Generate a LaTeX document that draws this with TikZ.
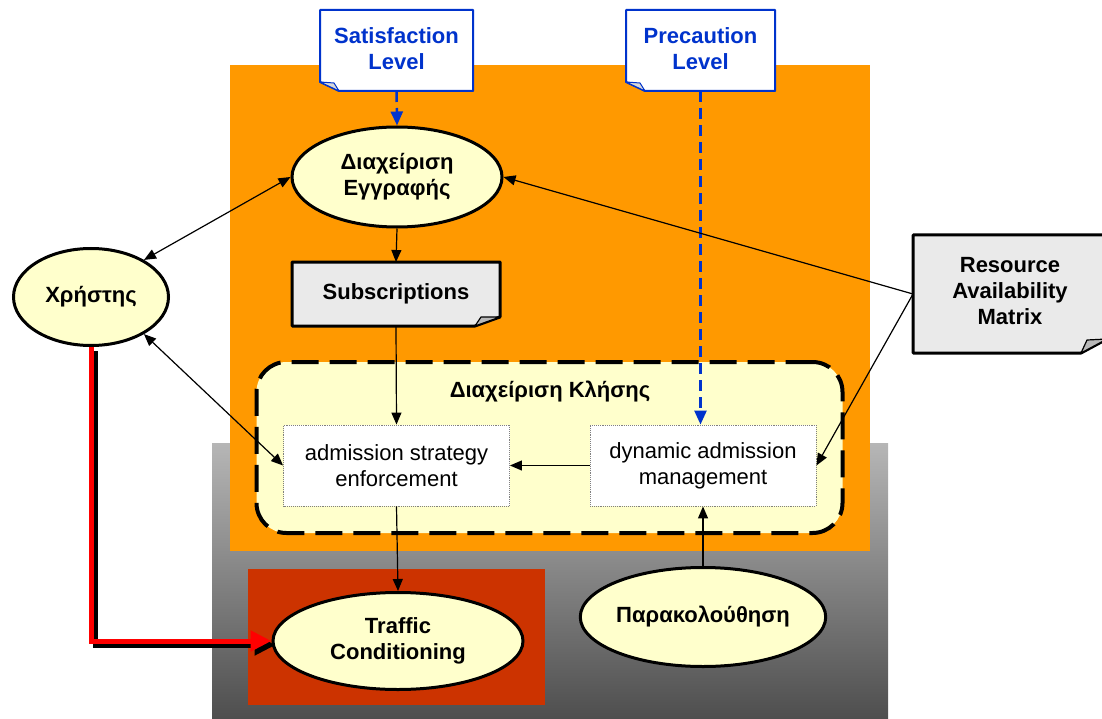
\documentclass[tikz,border=0pt]{standalone}
\usepackage{fontspec}
\setmainfont{Liberation Sans}
\usetikzlibrary{shapes.geometric,arrows.meta,calc}

\definecolor{orangebg}{RGB}{255,153,0}
\definecolor{paleyellow}{RGB}{255,255,204}
\definecolor{brick}{RGB}{204,51,0}
\definecolor{noteblue}{RGB}{0,51,204}
\definecolor{notegray}{RGB}{234,234,234}
\definecolor{gradtop}{RGB}{182,182,182}
\definecolor{gradbottom}{RGB}{78,78,78}

\tikzset{
  txt/.style={font=\fontsize{22}{26}\selectfont},
  boldtxt/.style={font=\fontsize{22}{26}\selectfont\bfseries},
  oval/.style={ellipse, draw=black, line width=3pt, fill=paleyellow,
    inner sep=0pt, align=center, boldtxt},
  noteframe/.style={rectangle, draw=none, inner sep=0pt, outer sep=0pt},
  notetext/.style={align=center, boldtxt, inner sep=0pt},
  taskbox/.style={rectangle, draw=gray, densely dotted, line width=0.9pt,
    fill=white, minimum width=226pt, minimum height=81pt, align=center, txt},
  callarea/.style={rectangle, draw=black, fill=paleyellow, line width=4pt,
    dash pattern=on 27pt off 11pt, rounded corners=30pt,
    minimum width=586pt, minimum height=171pt},
  link/.style={line width=1.2pt, -{Triangle[length=12pt,width=10pt]}},
  twoway/.style={line width=1.2pt,
    {Triangle[length=12pt,width=10pt]}-{Triangle[length=12pt,width=10pt]}},
  bluelink/.style={draw=noteblue, line width=2.5pt, dash pattern=on 11pt off 6pt,
    -{Triangle[length=14pt,width=12pt]}},
  redpath/.style={line width=5pt, -{Triangle[length=21pt,width=20pt]}},
}

\begin{document}
\begin{tikzpicture}[x=1pt,y=-1pt]
\useasboundingbox (0,0) rectangle (1102,719);

% background zones
\shade[top color=gradtop, bottom color=gradbottom] (212,443) rectangle (888,719);
\fill[orangebg] (230,65) rectangle (870,551);
\fill[brick] (248,569) rectangle (545,705);

% call handling area
\node[callarea] (call) at (549.5,447.5) {};
\node[boldtxt] (calltitle) at (550,392) {Διαχείριση Κλήσης};

% tasks inside the call handling area
\node[taskbox] (adm) at (396.5,465.5) {admission strategy\\enforcement};
\node[taskbox] (dyn) at (703,465.5) {dynamic admission\\management};

% ovals
\node[oval, minimum width=210pt, minimum height=100pt] (reg) at (397,177) {Διαχείριση\\Εγγραφής};
\node[oval, minimum width=155pt, minimum height=97pt] (user) at (91,297) {Χρήστης};
\node[oval, minimum width=250pt, minimum height=97pt] (traf) at (398,641) {Traffic\\Conditioning};
\node[oval, minimum width=244pt, minimum height=99pt] (mon) at (703,617) {Παρακολούθηση};

% note: Satisfaction Level (folded corner bottom left)
\node[noteframe, minimum width=153pt, minimum height=81pt] (sat) at (396.5,50.5) {};
\filldraw[draw=noteblue, fill=white, line width=2pt, line join=round]
  (sat.north west) -- (sat.north east) -- (sat.south east)
  -- ($(sat.south west)+(19,0)$) -- ($(sat.south west)+(0,-9)$) -- cycle;
\filldraw[draw=noteblue, fill=gray!30, line width=1pt, line join=round]
  ($(sat.south west)+(0,-9)$) -- ($(sat.south west)+(19,0)$) -- ($(sat.south west)+(14,-8)$) -- cycle;
\node[notetext, text=noteblue, yshift=2pt] (satl) at (sat) {Satisfaction\\Level};

% note: Precaution Level (folded corner bottom left)
\node[noteframe, minimum width=149pt, minimum height=81pt] (prec) at (700.5,50.5) {};
\filldraw[draw=noteblue, fill=white, line width=2pt, line join=round]
  (prec.north west) -- (prec.north east) -- (prec.south east)
  -- ($(prec.south west)+(19,0)$) -- ($(prec.south west)+(0,-9)$) -- cycle;
\filldraw[draw=noteblue, fill=gray!30, line width=1pt, line join=round]
  ($(prec.south west)+(0,-9)$) -- ($(prec.south west)+(19,0)$) -- ($(prec.south west)+(14,-8)$) -- cycle;
\node[notetext, text=noteblue, yshift=2pt] (precl) at (prec) {Precaution\\Level};

% note: Subscriptions (folded corner bottom right)
\node[noteframe, minimum width=208pt, minimum height=64pt] (subs) at (396,294) {};
\filldraw[draw=black, fill=notegray, line width=3pt, line join=round]
  (subs.north west) -- (subs.north east) -- ($(subs.south east)+(0,-9)$)
  -- ($(subs.south east)+(-25,0)$) -- (subs.south west) -- cycle;
\filldraw[draw=black, fill=gray!55, line width=1.2pt, line join=round]
  ($(subs.south east)+(0,-9)$) -- ($(subs.south east)+(-25,0)$) -- ($(subs.south east)+(-19,-9)$) -- cycle;
\node[notetext] (subsl) at (subs) {Subscriptions};

% note: Resource Availability Matrix (folded corner bottom right)
\node[noteframe, minimum width=194pt, minimum height=118pt] (ram) at (1010,294) {};
\filldraw[draw=black, fill=notegray, line width=3pt, line join=round]
  (ram.north west) -- (ram.north east) -- ($(ram.south east)+(0,-14)$)
  -- ($(ram.south east)+(-26,0)$) -- (ram.south west) -- cycle;
\filldraw[draw=black, fill=gray!55, line width=1.2pt, line join=round]
  ($(ram.south east)+(0,-14)$) -- ($(ram.south east)+(-26,0)$) -- ($(ram.south east)+(-20,-13)$) -- cycle;
\node[notetext, yshift=3pt] (raml) at (ram) {Resource\\Availability\\Matrix};

% connectors
\draw[bluelink] (sat.south) -- (reg.north);
\draw[bluelink] (prec.south) -- (prec.south |- dyn.north);
\draw[link] (reg.south) -- (subs.north);
\draw[link] (subs.south) -- (adm.north);
\draw[link] (dyn.west) -- (adm.east);
\draw[link] (adm.south) -- (traf.north);
\draw[link] (mon.north) -- (mon.north |- dyn.south);
\draw[twoway] (user.35) -- (reg.west);
\draw[twoway] (user.-35) -- (adm.west);
\draw[link] (ram.west) -- (reg.east);
\draw[link] (ram.west) -- (dyn.east);

% user to traffic conditioning, with drop shadow
\draw[redpath, black] ([shift={(4,4)}]user.south) |- ([shift={(4,4)}]traf.west);
\draw[redpath, red] (user.south) |- (traf.west);
\end{tikzpicture}
\end{document}
